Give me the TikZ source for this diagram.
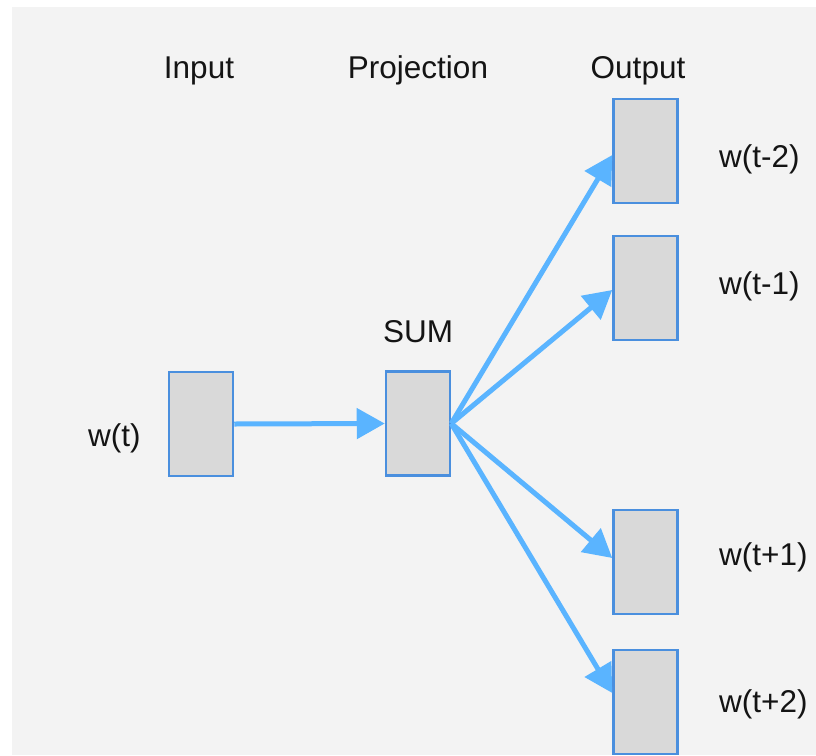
\documentclass[tikz,border=0pt]{standalone}
\usepackage{fontspec}
\setmainfont{Liberation Sans}
\usetikzlibrary{arrows.meta}
\definecolor{bgray}{HTML}{F3F3F3}
\definecolor{cellfill}{HTML}{D9D9D9}
\definecolor{cellline}{HTML}{4A8FDE}
\definecolor{linkblue}{HTML}{5AB4FF}
\tikzset{
  cell/.style={draw=cellline,fill=cellfill,line width=2.5pt,minimum width=64pt,minimum height=104pt,inner sep=0pt},
  link/.style={draw=linkblue,line width=5pt,-{Triangle[length=28pt,width=30pt]}},
  lbl/.style={font=\fontsize{31.5}{36}\selectfont,inner sep=0pt,text=black!92}
}
\begin{document}
\begin{tikzpicture}[x=1pt,y=-1pt]
\useasboundingbox (0,0) rectangle (816,755);
\fill[bgray] (12,7) rectangle (816,755);

\node[cell] (in) at (201,424) {};
\node[cell] (sum) at (418,423.5) {};
\node[cell] (o1) at (645.5,151) {};
\node[cell] (o2) at (645.5,288) {};
\node[cell] (o3) at (645.5,562) {};
\node[cell] (o4) at (645.5,702) {};

\draw[link] (in.east)--(sum.west);
\draw[link] (sum.east)--([yshift=-4pt]o1.west);
\draw[link] (sum.east)--([yshift=-2pt]o2.west);
\draw[link] (sum.east)--([yshift=4pt]o3.west);
\draw[link] (sum.east)--([yshift=9pt]o4.west);

\node[lbl,anchor=base] (tin) at (199,78) {Input};
\node[lbl,anchor=base] (tproj) at (418,78) {Projection};
\node[lbl,anchor=base] (tout) at (638,78) {Output};
\node[lbl,anchor=base] (tsum) at (418,342) {SUM};
\node[lbl,anchor=base west] (win) at (88,446) {w(t)};
\node[lbl,anchor=base west] (w1) at (719,167) {w(t-2)};
\node[lbl,anchor=base west] (w2) at (719,294) {w(t-1)};
\node[lbl,anchor=base west] (w3) at (719,565) {w(t+1)};
\node[lbl,anchor=base west] (w4) at (719,712) {w(t+2)};
\end{tikzpicture}
\end{document}
